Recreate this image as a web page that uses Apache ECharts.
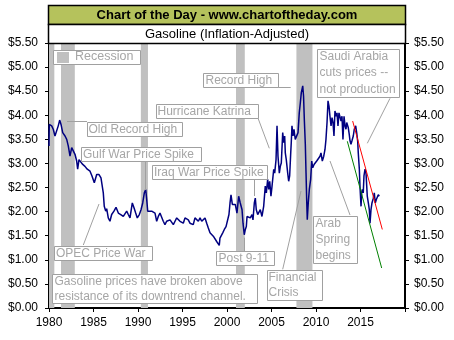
<!DOCTYPE html>
<html><head><meta charset="utf-8">
<script src="https://cdn.jsdelivr.net/npm/echarts@6/dist/echarts.min.js"></script>
<style>html,body{margin:0;padding:0;background:#fff}#c{width:454px;height:340px}</style>
</head><body><div id="c"></div>
<script>
// ---- data ----
var years = [1980.0,1980.03,1980.3,1980.48,1980.67,1980.87,1981.04,1981.2,1981.35,1981.54,1981.8,1981.99,1982.17,1982.36,1982.55,1982.73,1982.92,1983.11,1983.22,1983.37,1983.56,1983.79,1984.04,1984.3,1984.61,1984.83,1985.09,1985.36,1985.62,1985.84,1985.99,1986.1,1986.21,1986.37,1986.48,1986.66,1986.85,1987.04,1987.3,1987.53,1987.79,1988.06,1988.35,1988.73,1988.91,1989.1,1989.36,1989.55,1989.74,1989.92,1990.15,1990.34,1990.53,1990.71,1990.87,1990.98,1991.09,1991.27,1991.54,1991.72,1991.91,1992.1,1992.28,1992.47,1992.66,1992.84,1993.03,1993.22,1993.4,1993.6,1993.79,1993.97,1994.16,1994.35,1994.53,1994.72,1994.91,1995.09,1995.28,1995.47,1995.65,1995.84,1996.03,1996.21,1996.4,1996.6,1996.78,1996.97,1997.16,1997.34,1997.53,1997.72,1997.9,1998.09,1998.28,1998.46,1998.65,1998.84,1999.02,1999.13,1999.21,1999.33,1999.52,1999.7,1999.89,2000.03,2000.22,2000.34,2000.45,2000.6,2000.75,2000.93,2001.12,2001.31,2001.49,2001.69,2001.8,2001.94,2002.06,2002.17,2002.25,2002.44,2002.62,2002.81,2002.92,2003.07,2003.18,2003.29,2003.45,2003.56,2003.74,2003.93,2004.12,2004.3,2004.42,2004.57,2004.69,2004.8,2004.94,2005.06,2005.25,2005.36,2005.51,2005.62,2005.73,2005.88,2005.99,2006.1,2006.26,2006.37,2006.48,2006.55,2006.66,2006.82,2006.93,2007.04,2007.16,2007.22,2007.3,2007.42,2007.53,2007.67,2007.87,2007.98,2008.12,2008.24,2008.35,2008.51,2008.6,2008.69,2008.8,2008.88,2008.96,2009.02,2009.13,2009.25,2009.4,2009.52,2009.63,2009.78,2009.89,2010.08,2010.26,2010.45,2010.56,2010.71,2010.87,2011.01,2011.12,2011.24,2011.35,2011.46,2011.57,2011.69,2011.8,2011.91,2012.02,2012.13,2012.25,2012.36,2012.47,2012.58,2012.7,2012.81,2012.92,2013.03,2013.15,2013.26,2013.37,2013.45,2013.63,2013.74,2013.82,2013.93,2014.04,2014.19,2014.3,2014.46,2014.57,2014.68,2014.75,2014.87,2014.94,2015.02,2015.06,2015.13,2015.2,2015.31,2015.39,2015.51,2015.62,2015.7,2015.76,2015.88,2015.99,2016.07,2016.18,2016.29,2016.44,2016.55,2016.66,2016.78,2016.89,2017.0,2017.11,2017.19];
var prices = [3.36,3.81,3.78,3.71,3.57,3.53,3.78,3.90,3.81,3.64,3.57,3.50,3.36,3.15,3.33,3.29,3.19,3.05,2.88,3.08,3.12,2.98,2.94,2.88,2.84,2.74,2.60,2.77,2.77,2.70,2.68,2.39,2.11,2.01,2.06,1.87,1.80,1.94,2.01,2.09,1.97,1.94,1.90,2.01,1.94,1.87,2.18,2.08,1.97,1.87,1.94,2.04,2.18,2.39,2.46,2.25,2.01,2.04,2.01,2.04,1.97,1.80,1.90,1.97,1.94,1.80,1.73,1.80,1.76,1.83,1.80,1.73,1.80,1.87,1.90,1.80,1.83,1.76,1.87,1.90,1.83,1.76,1.80,1.73,1.87,1.83,1.80,1.87,1.80,1.83,1.87,1.76,1.66,1.56,1.52,1.49,1.45,1.38,1.35,1.30,1.45,1.42,1.56,1.63,1.69,1.73,1.94,2.18,2.35,2.15,2.11,2.15,1.97,2.32,2.18,2.04,1.76,1.52,1.63,1.69,1.90,1.94,1.87,1.94,1.83,2.18,2.28,2.04,1.94,1.97,2.04,1.90,2.11,2.53,2.39,2.67,2.46,2.63,2.32,2.53,2.88,2.80,3.08,3.78,3.15,2.80,2.94,3.01,3.64,3.43,3.57,3.22,3.08,2.80,2.63,2.74,3.22,3.43,3.78,3.57,3.71,3.50,3.47,3.64,4.05,4.26,4.47,4.61,4.40,3.90,3.40,2.80,2.20,1.83,2.18,2.46,2.67,3.05,2.91,2.98,2.94,3.05,3.08,3.15,3.22,3.05,3.15,3.29,3.50,3.85,4.30,4.19,3.98,3.78,3.95,3.85,3.57,4.09,3.98,4.05,3.78,4.05,4.09,3.88,3.98,3.50,3.98,3.78,3.71,3.85,3.74,3.60,3.47,3.40,3.47,3.57,3.71,3.78,3.64,3.47,3.22,2.88,2.53,2.25,2.11,2.39,2.46,2.39,2.74,2.88,2.80,2.53,2.32,2.18,2.04,1.76,2.04,2.18,2.28,2.39,2.18,2.25,2.28,2.35,2.32,2.35];
var recessionStart = [1980.0, 1981.35, 1990.32, 2001.01, 2007.8];
var recessionEnd   = [1980.6, 1982.9, 1991.12, 2002.0, 2009.6];
var redTrendYears = [2014.12, 2017.45];
var redTrendValues = [3.88, 1.63];
var greenTrendYears = [2013.52, 2017.38];
var greenTrendValues = [3.46, 0.83];
var yTicks = [0,0.5,1,1.5,2,2.5,3,3.5,4,4.5,5,5.5];
var xTicks = [1980,1985,1990,1995,2000,2005,2010,2015];
var title = 'Chart of the Day - www.chartoftheday.com';
var subtitle = 'Gasoline (Inflation-Adjusted)';

// ---- chart ----
var FONT = '"Liberation Sans", Arial, sans-serif';
var GRAY = '#a0a0a0';
var TXT = '#a6a6a6';
var chart = echarts.init(document.getElementById('c'), null, {renderer:'canvas'});

function zip(a,b){return a.map(function(v,i){return [v,b[i]];});}
var bands = recessionStart.map(function(s,i){return [{xAxis:s},{xAxis:recessionEnd[i]}];});

var yAxisCommon = {
  type:'value', min:0, max:5.5, interval:0.5,
  axisLine:{show:true, lineStyle:{color:'#000', width:2}},
  axisTick:{show:true, length:4, lineStyle:{color:'#000'}},
  splitLine:{show:false},
  axisLabel:{color:'#000', fontFamily:FONT, fontSize:12,
    formatter:function(v){return '$'+v.toFixed(2);}}
};

function box(x,y,w,h,lines,tx,lh){
  var els=[{type:'rect', shape:{x:x+0.5,y:y+0.5,width:w,height:h},
    style:{fill:'#fff', stroke:GRAY, lineWidth:1}, z:100}];
  els.push({type:'text', x:tx, y:y + 7.5 - lh/2, z:101,
    style:{text:lines.join('\n'), fill:TXT, font:'12px '+FONT, lineHeight:lh, verticalAlign:'top'}});
  return els;
}
function seg(x1,y1,x2,y2){
  return {type:'line', shape:{x1:x1,y1:y1,x2:x2,y2:y2}, style:{stroke:GRAY, lineWidth:1}, z:99};
}

var graphics = [
  {type:'rect', shape:{x:48.5,y:5.5,width:357,height:19}, style:{fill:'#b5c25c', stroke:'#000', lineWidth:1.5}, z:90},
  {type:'text', x:227, y:15, z:91, style:{text:title, font:'bold 13px '+FONT, fill:'#000', align:'center', verticalAlign:'middle'}},
  {type:'rect', shape:{x:48.5,y:24.5,width:357,height:19}, style:{fill:'#fff', stroke:'#000', lineWidth:1.5}, z:90},
  {type:'text', x:227, y:34, z:91, style:{text:subtitle, font:'13px '+FONT, fill:'#000', align:'center', verticalAlign:'middle'}},
  // leader lines
  seg(67,121.5,87,121.5),
  seg(145.5,161,145.5,190),
  seg(257.7,117.3,269.3,148.3),
  seg(278,87.5,290.7,87.5),
  seg(254.5,179,254.5,196),
  seg(83.3,245,99,204),
  seg(244.5,237.7,244.5,251),
  seg(282.7,269.3,301,191),
  seg(330,161,350,215),
  seg(390,98.3,367.3,143.3)
];
// recession legend
graphics = graphics.concat([
  {type:'rect', shape:{x:53.5,y:50.5,width:87,height:14}, style:{fill:'#fff', stroke:GRAY, lineWidth:1}, z:100},
  {type:'rect', shape:{x:57,y:52,width:12,height:11}, style:{fill:'#c0c0c0'}, z:101},
  {type:'text', x:75, y:50.5, z:101, style:{text:'Recession', fill:TXT, font:'12.5px '+FONT, verticalAlign:'top'}}
]);
graphics = graphics
  .concat(box(87,122,95,14,['Old Record High'],88.5,14))
  .concat(box(81,147,120,14,['Gulf War Price Spike'],83,14))
  .concat(box(156,104,102,14,['Hurricane Katrina'],157.5,14))
  .concat(box(203,73,75,14,['Record High'],205.5,14))
  .concat(box(152,165,115,14,['Iraq War Price Spike'],154,14))
  .concat(box(54,246,98,14,['OPEC Price War'],56,14))
  .concat(box(52,274,205,29,['Gasoline prices have broken above','resistance of its downtrend channel.'],54.5,15.6))
  .concat(box(216,251,58,14,['Post 9-11'],218.5,14))
  .concat(box(267,270,55,30,['Financial','Crisis'],268.5,15.6))
  .concat(box(313,216,44,47,['Arab','Spring','begins'],315.5,16.3))
  .concat(box(317,49,82,48,['Saudi Arabia','cuts prices --','not production'],319.5,16.5));

var option = {
  animation:false,
  grid:{left:49, right:49, top:43, bottom:32, containLabel:false},
  xAxis:{type:'value', min:1980, max:2020, interval:5,
    axisLine:{show:true, lineStyle:{color:'#000', width:2}},
    axisTick:{show:true, length:4, lineStyle:{color:'#000'}},
    splitLine:{show:false},
    axisLabel:{color:'#000', fontFamily:FONT, fontSize:12, margin:9,
      formatter:function(v){return xTicks.indexOf(v)>=0 ? String(v) : '';}}
  },
  yAxis:[
    Object.assign({}, yAxisCommon, {position:'left', axisLabel:Object.assign({}, yAxisCommon.axisLabel, {margin:11})}),
    Object.assign({}, yAxisCommon, {position:'right', axisLabel:Object.assign({}, yAxisCommon.axisLabel, {margin:9})})
  ],
  series:[
    {type:'line', data:[], z:1, silent:true,
      markArea:{silent:true, itemStyle:{color:'#c0c0c0'}, data:bands}},
    {type:'line', data:zip(years,prices), showSymbol:false, z:5,
      lineStyle:{color:'#000080', width:1.5}},
    {type:'line', data:zip(redTrendYears,redTrendValues), showSymbol:false, z:6,
      lineStyle:{color:'#ff0000', width:1}},
    {type:'line', data:zip(greenTrendYears,greenTrendValues), showSymbol:false, z:6,
      lineStyle:{color:'#008000', width:1}}
  ],
  graphic:graphics
};
chart.setOption(option);
</script></body></html>
